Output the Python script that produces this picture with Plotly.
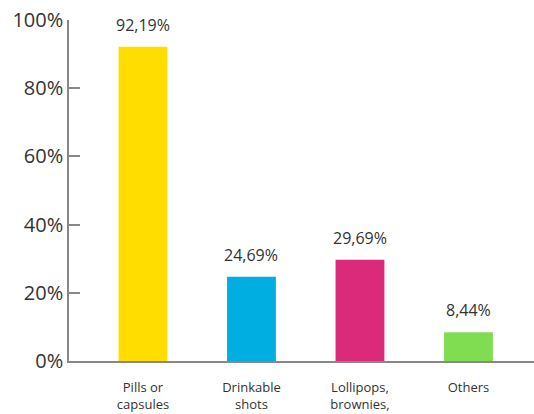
import plotly.graph_objects as go

categories = ["Pills or<br>capsules", "Drinkable<br>shots", "Lollipops,<br>brownies,", "Others"]
values = [92.19, 24.69, 29.69, 8.44]
colors = ["#FFDD00", "#00AEE1", "#DC2A7B", "#80DC50"]
tick_vals = [0, 20, 40, 60, 80, 100]
tick_text = ["0%", "20%", "40%", "60%", "80%", "100%"]

labels = [f"{v:.2f}".replace(".", ",") + "%" for v in values]

fig = go.Figure(go.Bar(
    x=categories, y=values, marker=dict(color=colors, line=dict(width=0)),
    hoverinfo="skip",
))

for c, v, t in zip(categories, values, labels):
    fig.add_annotation(
        x=c, y=v, text=t, showarrow=False, yanchor="bottom", yshift=9,
        font=dict(size=16, color="#333333", family="Open Sans"),
    )

fig.update_layout(
    width=534, height=414,
    margin=dict(l=69, r=0, t=20, b=53),
    paper_bgcolor="white", plot_bgcolor="white",
    bargap=0.55, showlegend=False,
    font=dict(family="Open Sans", color="#333333"),
)
fig.update_xaxes(
    range=[-0.682, 3.604], showline=True, linecolor="#888888", linewidth=1.5,
    ticks="", showgrid=False, tickfont=dict(size=13, color="#333333"),
    automargin=False, ticklabelstandoff=14,
)
fig.update_yaxes(
    range=[0, 100], tickvals=tick_vals, ticktext=tick_text,
    showline=True, linecolor="#888888", linewidth=1.5,
    ticks="inside", ticklen=11, tickcolor="#888888", tickwidth=1.5,
    showgrid=False, zeroline=False, tickfont=dict(size=20, color="#333333"),
    automargin=False,
)

fig.write_html(
    "out.html",
    config={"displayModeBar": False},
    post_script="document.body.style.margin='0';document.body.style.overflow='hidden';",
)
